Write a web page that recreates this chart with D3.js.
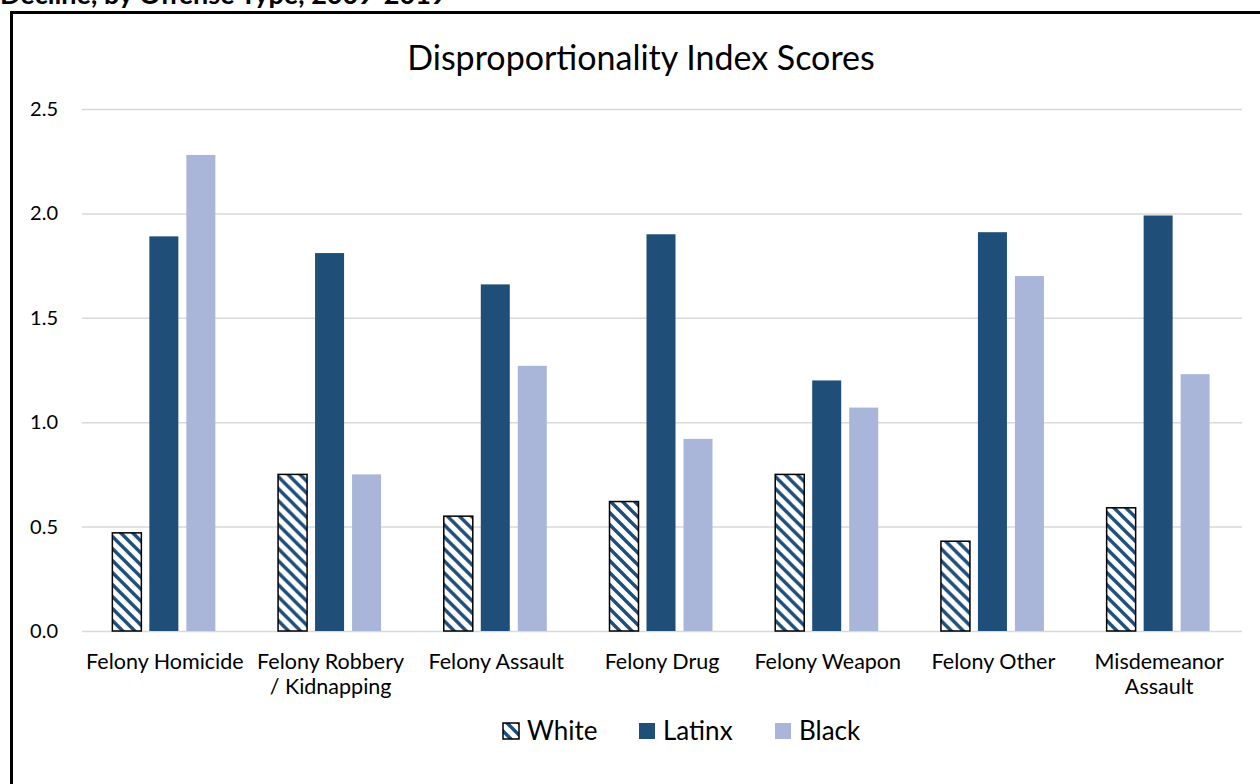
<!DOCTYPE html>
<html>
<head>
<meta charset="utf-8">
<script src="https://cdn.jsdelivr.net/npm/d3@7"></script>
<style>
  html, body { margin: 0; padding: 0; background: #fff; }
  svg { display: block; font-family: Lato, "Noto Sans", sans-serif; }
</style>
</head>
<body>
<svg id="chart" width="1260" height="784"></svg>
<script>
// ---- data ----
const categories = ["Felony Homicide", "Felony Robbery / Kidnapping", "Felony Assault", "Felony Drug", "Felony Weapon", "Felony Other", "Misdemeanor Assault"];
const categoryLines = [["Felony Homicide"], ["Felony Robbery", "/ Kidnapping"], ["Felony Assault"], ["Felony Drug"], ["Felony Weapon"], ["Felony Other"], ["Misdemeanor", "Assault"]];
const series = ["White", "Latinx", "Black"];
const white  = [0.47, 0.75, 0.55, 0.62, 0.75, 0.43, 0.59];
const latinx = [1.89, 1.81, 1.66, 1.90, 1.20, 1.91, 1.99];
const black  = [2.28, 0.75, 1.27, 0.92, 1.07, 1.70, 1.23];
const yTicks = [0, 0.5, 1.0, 1.5, 2.0, 2.5];
const chartTitle = "Disproportionality Index Scores";
const pageTitle = "Decline, by Offense Type, 2009-2019";

const values = { White: white, Latinx: latinx, Black: black };
const colors = { Latinx: "#1F4E79", Black: "#A9B6DA" };

const svg = d3.select("#chart");
const defs = svg.append("defs");
const P = 12;
const pat = defs.append("pattern")
  .attr("id", "hatch").attr("patternUnits", "userSpaceOnUse")
  .attr("width", P).attr("height", P);
pat.append("rect").attr("width", P).attr("height", P).attr("fill", "#fff");
pat.append("path").attr("d", `M-3,-3 L${P + 3},${P + 3} M-3,${P - 3} L3,${P + 3} M${P - 3},-3 L${P + 3},3`)
  .attr("stroke", "#1F4E79").attr("stroke-width", 3.4);

// page title (cut off at top)
svg.append("text").attr("x", 0).attr("y", 4)
  .attr("font-family", "Lato, sans-serif").attr("font-weight", "bold").attr("font-size", 27)
  .attr("fill", "#000").text(pageTitle);

// outer chart border
svg.append("rect").attr("x", 11.5).attr("y", 12.5).attr("width", 1400).attr("height", 1000)
  .attr("fill", "#fff").attr("stroke", "#000").attr("stroke-width", 3);

const plotLeft = 82, plotRight = 1242, plotTop = 109, plotBottom = 631;
const y = d3.scaleLinear().domain([0, 2.5]).range([plotBottom, plotTop]);
const x0 = d3.scaleBand().domain(categories).range([plotLeft, plotRight]).padding(0);
const x1 = d3.scaleBand().domain(series).range([-51.5, 51.5]).paddingInner(0.216);

// gridlines
const yAxis = d3.axisLeft(y).tickValues(yTicks).tickFormat(d3.format(".1f"))
  .tickSize(-(plotRight - plotLeft)).tickPadding(24);
const gy = svg.append("g").attr("transform", `translate(${plotLeft},0)`).call(yAxis);
gy.select(".domain").remove();
gy.selectAll(".tick line").attr("stroke", "#D9D9D9").attr("stroke-width", 1.5);
gy.selectAll(".tick text").attr("font-size", 20).attr("fill", "#000")
  .attr("font-family", "Lato, sans-serif");

// title
svg.append("text").attr("x", 641).attr("y", 70).attr("text-anchor", "middle")
  .attr("font-size", 34).attr("fill", "#000").text(chartTitle);

// bars
const groups = svg.append("g").selectAll("g").data(categories).join("g")
  .attr("transform", d => `translate(${x0(d) + x0.bandwidth() / 2 - 1},0)`);
groups.selectAll("rect").data((c, i) => series.map(s => ({ s, v: values[s][i] }))).join("rect")
  .attr("x", d => x1(d.s)).attr("width", x1.bandwidth())
  .attr("y", d => y(d.v)).attr("height", d => y(0) - y(d.v))
  .attr("fill", d => d.s === "White" ? "url(#hatch)" : colors[d.s])
  .attr("stroke", d => d.s === "White" ? "#000" : "none")
  .attr("stroke-width", 1.5);

// x axis labels
const xAxis = d3.axisBottom(x0).tickSize(0).tickFormat("");
const gx = svg.append("g").attr("transform", `translate(0,${plotBottom})`).call(xAxis);
gx.select(".domain").remove();
gx.selectAll(".tick").each(function(d, i) {
  const t = d3.select(this).append("text").attr("text-anchor", "middle")
    .attr("font-size", 21.5).attr("fill", "#000").attr("font-family", "Lato, sans-serif");
  categoryLines[i].forEach((line, j) => {
    t.append("tspan").attr("x", 0).attr("y", 38 + j * 25).text(line);
  });
});

// legend
const legendItems = [
  { s: "White", sx: 503, tx: 527 },
  { s: "Latinx", sx: 639, tx: 663 },
  { s: "Black", sx: 775, tx: 799 }
];
const lg = svg.append("g");
legendItems.forEach(it => {
  lg.append("rect").attr("x", it.sx).attr("y", 723).attr("width", 16).attr("height", 16)
    .attr("fill", it.s === "White" ? "url(#hatch)" : colors[it.s])
    .attr("stroke", it.s === "White" ? "#000" : "none").attr("stroke-width", 1.5);
  lg.append("text").attr("x", it.tx).attr("y", 740).attr("font-size", 26)
    .attr("fill", "#000").text(it.s);
});
</script>
</body>
</html>
